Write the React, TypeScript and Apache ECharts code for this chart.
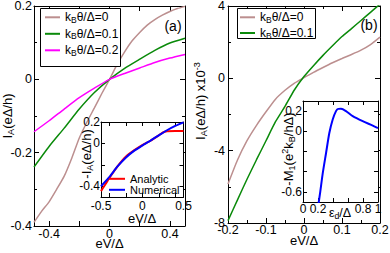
import React, { useEffect, useRef } from "react";
import * as echarts from "echarts";

const FONT = "'Liberation Sans', Arial, Helvetica, sans-serif";

// ---------- Panel (a), main plot ----------
const aXFine = [-0.5, -0.45, -0.4, -0.35, -0.3, -0.25, -0.2, -0.15, -0.1, -0.05, 0, 0.05, 0.1, 0.15, 0.2, 0.25, 0.3, 0.35, 0.4, 0.45, 0.5];
const aTheta0 = [-0.39, -0.36, -0.334, -0.30, -0.264, -0.215, -0.16, -0.117, -0.078, -0.038, 0, 0.04, 0.075, 0.105, 0.128, 0.148, 0.163, 0.175, 0.185, 0.193, 0.199];
const aX = [-0.5, -0.4, -0.3, -0.2, -0.1, 0, 0.1, 0.2, 0.3, 0.4, 0.5];
const aTheta01 = [-0.239, -0.183, -0.133, -0.081, -0.036, 0, 0.03, 0.055, 0.079, 0.099, 0.112];
const aTheta02 = [-0.143, -0.113, -0.081, -0.05, -0.024, 0, 0.016, 0.031, 0.046, 0.058, 0.068];
const aMainXTicks = [-0.4, -0.2, 0, 0.2, 0.4];
const aMainXLabels = [-0.4, 0, 0.4];

// ---------- Panel (a), inset ----------
const insAnalyticX = [-0.5, -0.45, -0.4, -0.3, -0.2, -0.1, 0, 0.1, 0.2, 0.25, 0.3, 0.4, 0.5];
const insAnalyticY = [-0.445, -0.385, -0.325, -0.215, -0.125, -0.065, -0.015, 0.025, 0.075, 0.102, 0.113, 0.115, 0.115];
const insNumericalX = [-0.5, -0.4, -0.3, -0.2, -0.1, 0, 0.1, 0.2, 0.3, 0.4, 0.5];
const insNumericalY = [-0.40, -0.315, -0.215, -0.133, -0.07, -0.02, 0.027, 0.075, 0.123, 0.163, 0.197];
const aInsXTicks = [-0.4, -0.2, 0, 0.2, 0.4];
const aInsXLabels = [-0.5, 0, 0.5];
const aInsYTicks = [-0.4, -0.2, 0, 0.2];
const aInsYLabels = [-0.4, 0, 0.2];

// ---------- Panel (b), main plot ----------
const bX = [-0.2, -0.175, -0.15, -0.125, -0.1, -0.075, -0.05, -0.025, 0, 0.025, 0.05, 0.075, 0.1, 0.125, 0.15, 0.175, 0.2];
const bTheta0 = [-5.85, -4.52, -3.45, -2.6, -1.85, -1.15, -0.66, -0.26, 0.04, 0.33, 0.6, 0.86, 1.1, 1.32, 1.56, 1.87, 2.28];
const bTheta01 = [-7.87, -6.72, -5.58, -4.5, -3.45, -2.4, -1.55, -0.63, 0.1, 0.7, 1.27, 1.8, 2.31, 2.75, 3.2, 3.65, 4.1];

// ---------- Panel (b), inset ----------
const epsD = [0.19, 0.2, 0.23, 0.263, 0.307, 0.351, 0.396, 0.44, 0.47, 0.507, 0.573, 0.663, 0.796, 0.93, 1.0];
const minusM1 = [-0.8, -0.75, -0.6, -0.417, -0.217, -0.017, 0.117, 0.2, 0.222, 0.223, 0.2, 0.15, 0.1, 0.057, 0.032];
const bInsYTicks = [-0.6, -0.4, -0.2, 0, 0.2];
const bInsYLabels = [-0.6, 0, 0.2];
const bInsXLabels = [0, 0.2, 0.8, 1];

const legendA = ["kBθ/Δ=0", "kBθ/Δ=0.1", "kBθ/Δ=0.2"];
const legendB = ["kBθ/Δ=0", "kBθ/Δ=0.1"];
const legendIns = ["Analytic", "Numerical"];

const BROWN = "#bc8f8f";
const GREEN = "#0a8a0a";
const MAGENTA = "#ff00ff";
const RED = "#ff0000";
const BLUE = "#0000ff";

const zip = (xs: number[], ys: number[]) => xs.map((x, i) => [x, ys[i]]);

type AxCfg = {
  interval?: number;
  ticks?: number[];
  labels?: number[];
  showLabels?: boolean;
  minor?: number;
  margin?: number;
  fontSize?: number;
  tickLen?: number;
  z?: number;
};

function axis(gridIndex: number, position: string, min: number, max: number, c: AxCfg) {
  const ax: any = {
    type: "value",
    gridIndex,
    position,
    min,
    max,
    z: c.z ?? 0,
    axisLine: { show: true, onZero: false, lineStyle: { color: "#000", width: 1 } },
    splitLine: { show: false },
    axisTick: { show: true, inside: true, length: c.tickLen ?? 5, lineStyle: { color: "#000", width: 1 } },
    axisLabel: {
      show: !!c.showLabels,
      margin: c.margin ?? 2,
      color: "#000",
      fontSize: c.fontSize ?? 12.5,
      fontFamily: FONT,
      showMinLabel: true,
      showMaxLabel: true,
      hideOverlap: false,
    },
  };
  if (c.interval !== undefined) ax.interval = c.interval;
  if (c.ticks) ax.axisTick.customValues = c.ticks;
  if (c.labels) ax.axisLabel.customValues = c.labels;
  if (c.minor) ax.minorTick = { show: true, splitNumber: c.minor, length: 3, lineStyle: { color: "#000", width: 1 } };
  return ax;
}

function richFor(fs: number) {
  return {
    n: { fontSize: fs, fontFamily: FONT, fill: "#000", lineHeight: fs + 3 },
    s: { fontSize: fs * 0.7, fontFamily: FONT, fill: "#000", lineHeight: fs * 0.7, verticalAlign: "bottom" },
    p: { fontSize: fs * 0.7, fontFamily: FONT, fill: "#000", lineHeight: fs * 0.7, verticalAlign: "top" },
  };
}

function title(text: string, x: number, y: number, rotate: boolean, fs = 13) {
  return {
    type: "text",
    x,
    y,
    rotation: rotate ? Math.PI / 2 : 0,
    z: 20,
    silent: true,
    style: { text, rich: richFor(fs), fontSize: fs, fontFamily: FONT, fill: "#000", align: "center", verticalAlign: "middle" },
  };
}

const kFmt = (name: string) => `{n|k}{s|B}{n|${name.slice(2)}}`;
const legendRich = {
  n: { fontSize: 12, fontFamily: FONT, color: "#000", lineHeight: 14 },
  s: { fontSize: 8.5, fontFamily: FONT, color: "#000", lineHeight: 7, verticalAlign: "bottom" },
};

function line(name: string, xi: number, data: number[][], color: string, width: number, z: number, smooth = 0.2) {
  return {
    type: "line",
    name,
    xAxisIndex: xi,
    yAxisIndex: xi,
    data,
    color,
    symbol: "none",
    showSymbol: false,
    smooth,
    silent: true,
    clip: true,
    z,
    lineStyle: { color, width },
    itemStyle: { color },
  };
}

export default function App() {
  const ref = useRef<HTMLDivElement>(null);
  useEffect(() => {
    if (!ref.current) return;
    const chart = echarts.init(ref.current, null, { renderer: "svg" });
    const option: any = {
      animation: false,
      backgroundColor: "#fff",
      grid: [
        { left: 34, top: 6, width: 151, height: 220, containLabel: false, outerBoundsMode: "none" },
        { left: 101, top: 122, width: 82.5, height: 75, containLabel: false, outerBoundsMode: "none", show: true, backgroundColor: "#fff", borderWidth: 0, z: 10 },
        { left: 228, top: 6, width: 152, height: 217, containLabel: false, outerBoundsMode: "none" },
        { left: 303, top: 101, width: 75, height: 101, containLabel: false, outerBoundsMode: "none", show: true, backgroundColor: "#fff", borderWidth: 0, z: 10 },
      ],
      xAxis: [
        axis(0, "bottom", -0.5, 0.5, { ticks: aMainXTicks, labels: aMainXLabels, showLabels: true, margin: 1 }),
        axis(0, "top", -0.5, 0.5, { ticks: aMainXTicks }),
        axis(1, "bottom", -0.5, 0.5, { ticks: aInsXTicks, labels: aInsXLabels, showLabels: true, margin: 3, fontSize: 12, tickLen: 4, z: 11 }),
        axis(1, "top", -0.5, 0.5, { ticks: aInsXTicks, tickLen: 4, z: 11 }),
        axis(2, "bottom", -0.2, 0.2, { interval: 0.1, minor: 2, showLabels: true, margin: 0 }),
        axis(2, "top", -0.2, 0.2, { interval: 0.1, minor: 2 }),
        axis(3, "bottom", 0, 1, { interval: 0.2, labels: bInsXLabels, showLabels: true, margin: 1, fontSize: 12, tickLen: 4, z: 11 }),
        axis(3, "top", 0, 1, { interval: 0.2, tickLen: 4, z: 11 }),
      ],
      yAxis: [
        axis(0, "left", -0.4, 0.2, { interval: 0.2, minor: 2, showLabels: true, margin: 2 }),
        axis(0, "right", -0.4, 0.2, { interval: 0.2, minor: 2 }),
        axis(1, "left", -0.5, 0.2, { ticks: aInsYTicks, labels: aInsYLabels, showLabels: true, margin: 1, fontSize: 12, tickLen: 4, z: 11 }),
        axis(1, "right", -0.5, 0.2, { ticks: aInsYTicks, tickLen: 4, z: 11 }),
        axis(2, "left", -8, 4, { interval: 4, minor: 2, showLabels: true, margin: 3 }),
        axis(2, "right", -8, 4, { interval: 4, minor: 2 }),
        axis(3, "left", -0.7, 0.3, { ticks: bInsYTicks, labels: bInsYLabels, showLabels: true, margin: 1, fontSize: 12, tickLen: 4, z: 11 }),
        axis(3, "right", -0.7, 0.3, { ticks: bInsYTicks, tickLen: 4, z: 11 }),
      ],
      legend: [
        {
          data: legendA, left: 45, top: 11.3, orient: "vertical", icon: "rect", itemWidth: 15, itemHeight: 2, itemGap: 3.5,
          padding: 0, selectedMode: false, formatter: kFmt, textStyle: { fontSize: 12, color: "#000", fontFamily: FONT, rich: legendRich }, z: 4,
        },
        {
          data: legendB, left: 240, top: 11.3, orient: "vertical", icon: "rect", itemWidth: 15, itemHeight: 2, itemGap: 2.7,
          padding: 0, selectedMode: false, formatter: kFmt, textStyle: { fontSize: 12, color: "#000", fontFamily: FONT, rich: legendRich }, z: 4,
        },
        {
          data: legendIns, left: 109, top: 173.3, orient: "vertical", icon: "rect", itemWidth: 16, itemHeight: 2, itemGap: 0,
          padding: 0, selectedMode: false, textStyle: { fontSize: 11, lineHeight: 10, color: "#000", fontFamily: FONT }, z: 13,
        },
      ],
      series: [
        line(legendA[0], 0, zip(aXFine, aTheta0), BROWN, 1.5, 2),
        line(legendA[1], 0, zip(aX, aTheta01), GREEN, 1.5, 2),
        line(legendA[2], 0, zip(aX, aTheta02), MAGENTA, 1.5, 2),
        line(legendIns[0], 2, zip(insAnalyticX, insAnalyticY), RED, 2, 12, 0.15),
        line(legendIns[1], 2, zip(insNumericalX, insNumericalY), BLUE, 2, 12),
        line(legendB[0], 4, zip(bX, bTheta0), BROWN, 1.5, 2),
        line(legendB[1], 4, zip(bX, bTheta01), GREEN, 1.5, 2),
        line("-M1", 6, zip(epsD, minusM1), BLUE, 2, 12, 0.25),
      ],
      graphic: [
        { type: "rect", z: 3, silent: true, shape: { x: 40.5, y: 8.5, width: 80, height: 58 }, style: { fill: "#fff", stroke: "#000", lineWidth: 1 } },
        { type: "rect", z: 3, silent: true, shape: { x: 237.5, y: 8.5, width: 78, height: 30 }, style: { fill: "#fff", stroke: "#000", lineWidth: 1 } },
        title("{n|I}{s|A}{n|(eΔ/h)}", 7.5, 116, true),
        title("{n|-I}{s|A}{n|(eΔ/h)}", 86, 154, true),
        title("{n|I}{s|A}{n|(eΔ/h) x10}{p|-3}", 200, 101, true),
        title("{n|-M}{s|1}{n|(e}{p|2}{n|k}{s|B}{n|/hΔ)}", 288, 149, true),
        title("eV/Δ", 109.5, 243.5, false),
        title("eV/Δ", 142, 218, false),
        title("eV/Δ", 304, 240, false),
        title("{n|ε}{s|d}{n|/Δ}", 340, 213, false, 12.5),
        title("(a)", 173, 26, false, 14),
        title("(b)", 369, 25, false, 14),
      ],
    };
    chart.setOption(option);
    return () => chart.dispose();
  }, []);
  return <div ref={ref} style={{ position: "absolute", left: 0, top: 0, width: 390, height: 253 }} />;
}
